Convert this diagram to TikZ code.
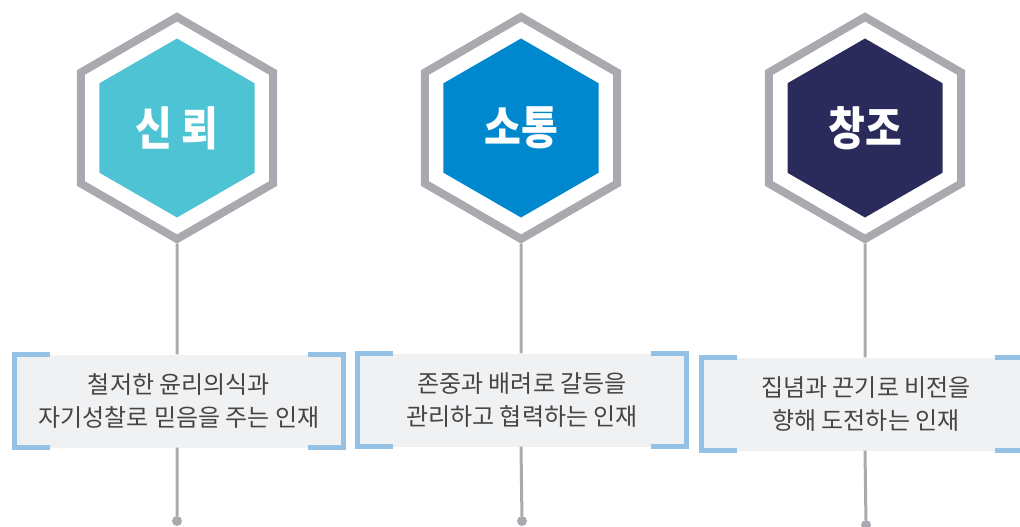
\documentclass[tikz,border=0pt]{standalone}
\usepackage{fontspec}
\setmainfont{Noto Sans CJK KR}
\usetikzlibrary{shapes.geometric, positioning}

\definecolor{hexgray}{HTML}{A9AAAF}
\definecolor{trustcyan}{HTML}{4DC3D4}
\definecolor{talkblue}{HTML}{0088CE}
\definecolor{createnavy}{HTML}{2B2B5B}
\definecolor{boxfill}{HTML}{F0F1F3}
\definecolor{bracketblue}{HTML}{93C2E6}
\definecolor{textgray}{HTML}{454545}

\newcommand{\hextitle}[1]{\scalebox{1}[1.15]{#1}}

\begin{document}
\begin{tikzpicture}[x=1pt,y=-1pt,node distance=344pt,
  frame/.style={regular polygon, regular polygon sides=6, shape border rotate=30,
    draw=hexgray, line width=8pt, minimum size=222pt, inner sep=0pt},
  core/.style={regular polygon, regular polygon sides=6, shape border rotate=30,
    minimum size=179pt, inner sep=0pt, text=white,
    font=\fontsize{40}{44}\selectfont\bfseries},
  desc/.style={rectangle, fill=boxfill, minimum width=328pt, minimum height=93pt,
    inner sep=0pt, align=center, text=textgray, font=\fontsize{24}{33}\selectfont},
  bracket/.style={draw=bracketblue, line width=5pt},
  stem/.style={draw=hexgray, line width=3pt},
  dot/.style={circle, fill=hexgray, minimum size=10pt, inner sep=0pt}]

  \useasboundingbox (0,0) rectangle (1020,527);

  % hexagons
  \node[frame] (hexA) at (177,128) {};
  \node[frame] (hexB) [right of=hexA] {};
  \node[frame] (hexC) [right of=hexB] {};
  \node[core, fill=trustcyan] (coreA) at (hexA) {\hextitle{신 뢰}};
  \node[core, fill=talkblue] (coreB) at (hexB) {\hextitle{소통}};
  \node[core, fill=createnavy] (coreC) at (hexC) {\hextitle{창조}};

  % description boxes
  \node[desc] (boxA) at (179,401) {철저한 윤리의식과\\자기성찰로 믿음을 주는 인재};
  \node[desc] (boxB) at (522,400) {존중과 배려로 갈등을\\관리하고 협력하는 인재};
  \node[desc] (boxC) at (866,404) {집념과 끈기로 비전을\\향해 도전하는 인재};

  \foreach \b in {boxA,boxB,boxC}{
    \draw[bracket] ([xshift=35pt]\b.north west) -- (\b.north west) -- (\b.south west) -- ([xshift=35pt]\b.south west);
    \draw[bracket] ([xshift=-35pt]\b.north east) -- (\b.north east) -- (\b.south east) -- ([xshift=-35pt]\b.south east);
  }

  % stems
  \node[dot] (dotA) at (177,521) {};
  \node[dot] (dotB) at (522,521) {};
  \node[dot] (dotC) at (866,525) {};

  \path[stem]
    (hexA.south) -- (boxA.north -| hexA.south)
    (boxA.south -| hexA.south) -- (dotA)
    (hexB.south) -- (boxB.north -| hexB.south)
    (boxB.south -| hexB.south) -- (dotB)
    (hexC.south) -- (boxC.north -| hexC.south)
    (boxC.south -| hexC.south) -- (dotC);
\end{tikzpicture}
\end{document}
